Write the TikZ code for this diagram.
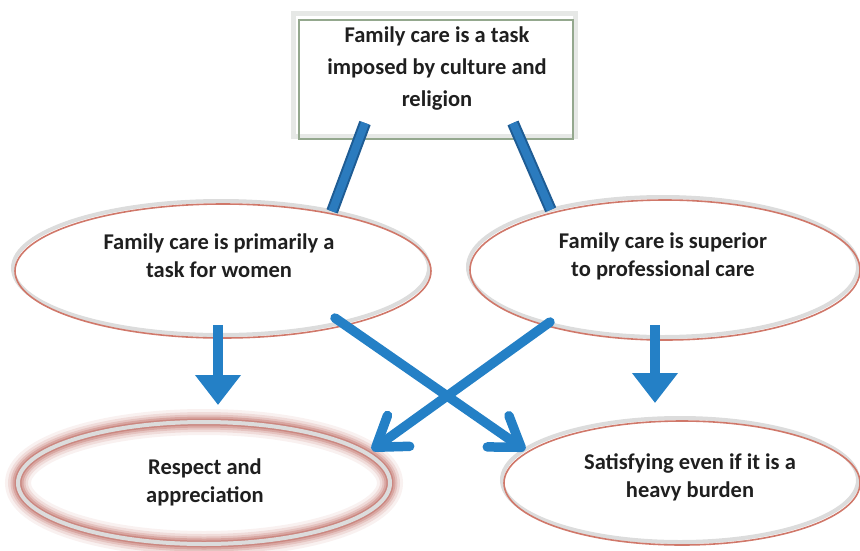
\documentclass[tikz,border=0pt]{standalone}
\usepackage{fontspec}
\setmainfont{Carlito}
\usetikzlibrary{arrows.meta,calc,shapes.geometric}
\definecolor{ellgray}{HTML}{DCDCDC}
\definecolor{ellred}{HTML}{D0786A}
\definecolor{glowred}{HTML}{B04A40}
\definecolor{barblue}{HTML}{2B7BBE}
\definecolor{baredge}{HTML}{1E5C94}
\definecolor{arrblue}{HTML}{2480C6}
\definecolor{boxgray}{HTML}{E6E8E6}
\definecolor{boxgreen}{HTML}{94A88E}
\definecolor{txt}{HTML}{1F1F1F}
\tikzset{
  ell/.style={ellipse, draw=ellgray, line width=4pt, inner sep=0pt, outer sep=0pt},
  redring/.style={ellred, line width=1.6pt},
  lbl/.style={align=center, text=txt, font=\bfseries\fontsize{22.5}{28}\selectfont},
  toplbl/.style={align=center, text=txt, font=\bfseries\fontsize{22.5}{32}\selectfont},
  baredgestyle/.style={baredge, line width=12pt},
  barfill/.style={barblue, line width=8pt},
  downarrow/.style={arrblue, line width=9.5pt, -{Triangle[width=44pt,length=30pt]}},
  diagarrow/.style={arrblue, line width=9.5pt, line cap=round, -{Straight Barb[length=28pt,width=38pt,round]}}
}
\begin{document}
\begin{tikzpicture}[x=1pt,y=-1pt]
\useasboundingbox (0,0) rectangle (860,550);
% top box
\node[draw=boxgray, line width=5pt, minimum width=282pt, minimum height=123pt, inner sep=0pt, outer sep=0pt] (T) at (434,74.5) {};
\draw[boxgreen, line width=1.5pt] ($(T.north west)+(6,7)$) rectangle ($(T.south east)+(-2,3)$);
\node[toplbl] (Tt) at (437,69) {Family care is a task\\imposed by culture and\\religion};
% glow of bottom-left ellipse
\foreach \w/\o in {26/0.08, 20/0.12, 15/0.17, 11/0.24, 7/0.34} {
  \draw[glowred, opacity=\o, line width=\w pt] (204,483) ellipse [x radius=186pt, y radius=61pt];
}
% ellipses
\node[ell, minimum width=416pt, minimum height=134pt] (L) at (221,268) {};
\draw[redring] ($(L.center)+(2,3)$) ellipse [x radius=208pt, y radius=67pt];
\node[ell, minimum width=390pt, minimum height=140pt] (R) at (663,267) {};
\draw[redring] ($(R.center)+(2,3)$) ellipse [x radius=195pt, y radius=70pt];
\node[ell, minimum width=372pt, minimum height=122pt] (BL) at (204,483) {};
\node[ell, minimum width=356pt, minimum height=124pt] (BR) at (680,480) {};
\draw[redring] ($(BR.center)+(2,3)$) ellipse [x radius=178pt, y radius=62pt];
% labels
\node[lbl] (Lt) at (219,256) {Family care is primarily a\\task for women};
\node[lbl] (Rt) at (663,256) {Family care is superior\\to professional care};
\node[lbl] (BLt) at (205,482) {Respect and\\appreciation};
\node[lbl] (BRt) at (690,477) {Satisfying even if it is a\\heavy burden};
% bars from top box
\draw[baredgestyle] ($(T.south west)+(72,-13)$) -- (L.27);
\draw[barfill] ($(T.south west)+(72,-13)$) -- (L.27);
\draw[baredgestyle] ($(T.south west)+(220,-13)$) -- (R.153);
\draw[barfill] ($(T.south west)+(220,-13)$) -- (R.153);
% arrows
\draw[downarrow] ($(L.south)+(-3,-10)$) -- ($(BL.north)+(14,-17)$);
\draw[downarrow] ($(R.south)+(-8,-12)$) -- ($(BR.north)+(-25,-15)$);
\draw[diagarrow] ($(L.center)+(114,50)$) -- ($(BR.center)+(-155,-30)$);
\draw[diagarrow] ($(R.center)+(-113,55)$) -- ($(BL.center)+(168,-33)$);
\end{tikzpicture}
\end{document}
